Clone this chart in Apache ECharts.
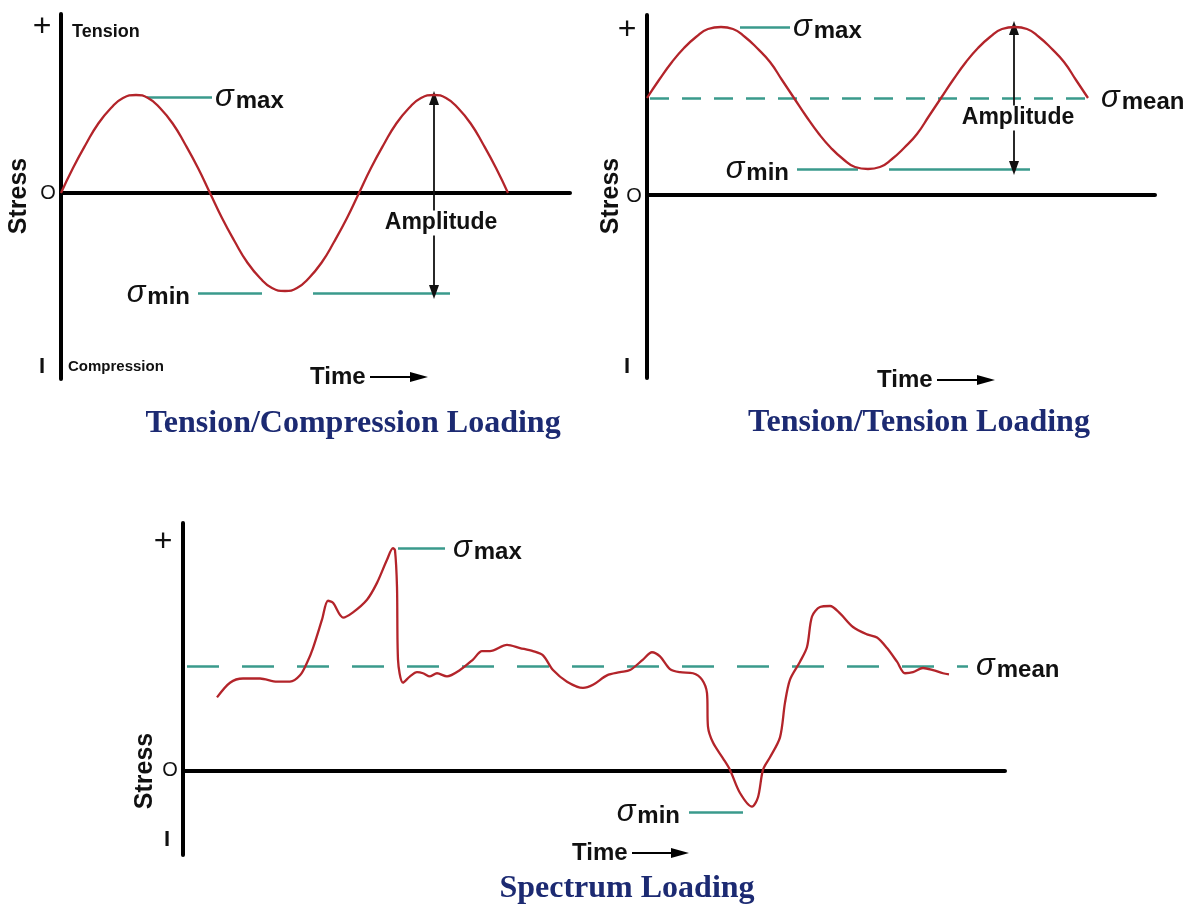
<!DOCTYPE html>
<html>
<head>
<meta charset="utf-8">
<script src="https://cdn.jsdelivr.net/npm/echarts@6/dist/echarts.min.js"></script>
<style>html,body{margin:0;padding:0;background:#fff;}#c{width:1190px;height:909px;}</style>
</head>
<body>
<div id="c"></div>
<script>
// ---- Panel 1: Tension/Compression loading (time units, stress units) ----
const p1Time   = [0,12,25,37,50,62,75,87,99,112,124,137,149,161,174,186,199,211,224,236,248,261,273,286,298,310,323,335,348,360,373,385,397,410,422,435,447];
const p1Stress = [0,25,49,69,85,95,98,95,85,69,49,25,0,-25,-49,-69,-85,-95,-98,-95,-85,-69,-49,-25,0,25,49,69,85,95,98,95,85,69,49,25,0];
// ---- Panel 2: Tension/Tension loading ----
const p2Time   = [0,12,25,37,49,61,74,86,98,110,123,135,147,159,172,184,196,208,221,233,245,257,270,282,294,306,319,331,343,355,368,380,392,404,417,429,441];
const p2Stress = [97,115,133,147,158,166,168,166,158,147,133,115,97,79,61,47,36,28,26,28,36,47,61,79,97,115,133,147,158,166,168,166,158,147,133,115,97];
// ---- Panel 3: Spectrum loading ----
const p3Time   = [34,47,60,77,94,107,117,124,130,139,145,150,160,170,184,194,204,210,212,214,215,220,227,234,240,247,254,264,277,290,299,307,324,337,350,360,370,384,400,410,424,437,447,460,469,477,487,497,510,519,524,525,530,540,547,557,569,575,580,587,597,602,607,617,624,629,637,647,657,670,684,694,704,714,722,730,740,750,760,766];
const p3Stress = [70,84,88,88,85,85,91,103,117,144,162,160,146,151,163,179,201,212,210,175,106,84,90,94,93,90,93,90,96,106,114,114,120,117,114,110,96,85,79,82,91,94,96,106,113,109,97,94,93,87,74,42,27,12,1,-21,-34,-25,1,13,32,65,87,104,118,147,156,157,150,137,130,127,117,104,93,94,98,96,93,92];

// key stress levels
const p1Max = 96, p1Min = -100;
const p2Max = 168, p2Mean = 97, p2Min = 26;
const p3Max = 212, p3Mean = 100, p3Min = -39;

const zip = (a, b) => a.map((v, i) => [v, b[i]]);

const RED = '#b3242a', TEAL = '#3a9a8c', INK = '#111';
const SANS = 'Liberation Sans, Arial, sans-serif';
const SERIF = 'Liberation Serif, Times New Roman, serif';

const sigRich = {
  s: {fontFamily: SANS, fontSize: 31, fontStyle: 'italic', color: INK, lineHeight: 32, verticalAlign: 'bottom'},
  m: {fontFamily: SANS, fontSize: 24, fontWeight: 'bold', color: INK, padding: [0, 0, 0, 2], verticalAlign: 'bottom'}
};
const sig = sub => '{s|σ}{m|' + sub + '}';

function xAx(gi, max) {
  return {type: 'value', gridIndex: gi, min: 0, max: max,
    axisLine: {show: true, onZero: true, lineStyle: {color: '#000', width: 4}},
    axisTick: {show: false}, axisLabel: {show: false}, splitLine: {show: false}};
}
function yAx(gi, min, max) {
  return {type: 'value', gridIndex: gi, min: min, max: max,
    axisLine: {show: true, onZero: false, lineStyle: {color: '#000', width: 4}},
    axisTick: {show: false}, axisLabel: {show: false}, splitLine: {show: false}};
}
function hLine(x1, x2, y, label, pos, dist, dashed) {
  const item = [
    {coord: [x1, y], symbol: 'none', lineStyle: {color: TEAL, width: 2.5, type: dashed || 'solid'}},
    {coord: [x2, y], symbol: 'none'}
  ];
  if (label) {
    item[0].label = {show: true, position: pos, distance: dist, formatter: sig(label), rich: sigRich};
  } else {
    item[0].label = {show: false};
  }
  return item;
}
function arrow(x, y1, y2) {
  return [
    {coord: [x, y1], symbol: 'triangle', symbolSize: [10, 14], lineStyle: {color: '#111', width: 1.8, type: 'solid'}, label: {show: false}},
    {coord: [x, y2], symbol: 'triangle', symbolSize: [10, 14]}
  ];
}
function ampLabel(x, y) {
  return {coord: [x, y], symbol: 'circle', symbolSize: 1, itemStyle: {color: 'rgba(0,0,0,0)'},
    label: {show: true, position: 'inside', formatter: 'Amplitude', color: INK, fontFamily: SANS,
      fontSize: 23, fontWeight: 'bold', backgroundColor: '#fff', padding: [1, 1]}};
}
function curve(gi, data, smooth, mlData, mpData) {
  return {type: 'line', xAxisIndex: gi, yAxisIndex: gi, data: data, smooth: smooth,
    showSymbol: false, silent: true, animation: false, z: 5,
    lineStyle: {color: RED, width: 2.3},
    markLine: {silent: true, animation: false, symbol: 'none', z: 3, data: mlData},
    markPoint: {silent: true, animation: false, z: 6, data: mpData || []}};
}

function T(x, y, text, font) {
  return {type: 'text', x: x, y: y, silent: true,
    style: {text: text, font: font, fill: INK, align: 'left', verticalAlign: 'middle'}};
}
function Tc(x, y, text, font, fill) {
  return {type: 'text', x: x, y: y, silent: true,
    style: {text: text, font: font, fill: fill || INK, align: 'center', verticalAlign: 'middle'}};
}
function Trot(x, y, text, font) {
  return {type: 'text', x: x, y: y, rotation: Math.PI / 2, silent: true,
    style: {text: text, font: font, fill: INK, align: 'center', verticalAlign: 'middle'}};
}
function timeArrow(x, y, x2) {
  return [
    T(x, y, 'Time', 'bold 24px ' + SANS),
    {type: 'line', silent: true, shape: {x1: x + 60, y1: y, x2: x2 - 12, y2: y}, style: {stroke: '#000', lineWidth: 2}},
    {type: 'polygon', silent: true, shape: {points: [[x2 - 18, y - 5], [x2, y], [x2 - 18, y + 5]]}, style: {fill: '#000'}}
  ];
}

const TITLE_FONT = 'bold 32px ' + SERIF, NAVY = '#1c2a72';
const graphics = [
  // panel 1
  Tc(42, 27, '+', '32px ' + SANS), T(72, 32, 'Tension', 'bold 18px ' + SANS),
  Tc(48, 193, 'O', '20px ' + SANS), Trot(19, 196, 'Stress', 'bold 25px ' + SANS),
  Tc(42, 367, 'I', 'bold 22px ' + SANS), T(68, 367, 'Compression', 'bold 15px ' + SANS),
  ...timeArrow(310, 377, 428),
  Tc(353, 424, 'Tension/Compression Loading', TITLE_FONT, NAVY),
  // panel 2
  Tc(627, 30, '+', '32px ' + SANS), Tc(634, 196, 'O', '20px ' + SANS),
  Trot(611, 196, 'Stress', 'bold 25px ' + SANS), Tc(627, 367, 'I', 'bold 22px ' + SANS),
  ...timeArrow(877, 380, 995),
  Tc(919, 423, 'Tension/Tension Loading', TITLE_FONT, NAVY),
  // panel 3
  Tc(163, 542, '+', '32px ' + SANS), Tc(170, 770, 'O', '20px ' + SANS),
  Trot(145, 771, 'Stress', 'bold 25px ' + SANS), Tc(167, 840, 'I', 'bold 22px ' + SANS),
  ...timeArrow(572, 853, 689),
  Tc(627, 889, 'Spectrum Loading', TITLE_FONT, NAVY)
];

const option = {
  backgroundColor: '#fff',
  animation: false,
  grid: [
    {left: 61, top: 14, width: 509, height: 365},
    {left: 647, top: 15, width: 508, height: 363},
    {left: 183, top: 523, width: 822, height: 332}
  ],
  xAxis: [xAx(0, 509), xAx(1, 508), xAx(2, 822)],
  yAxis: [yAx(0, -186, 179), yAx(1, -183, 180), yAx(2, -80, 236)],
  series: [
    curve(0, zip(p1Time, p1Stress), 0.5, [
      hLine(86, 151, p1Max, 'max', 'end', 3),
      hLine(137, 201, p1Min, 'min', 'start', 8),
      hLine(252, 389, p1Min),
      arrow(373, p1Max - 1, p1Min + 1)
    ], [ampLabel(380, -30)]),
    curve(1, zip(p2Time, p2Stress), 0.5, [
      hLine(93, 143, p2Max, 'max', 'end', 3),
      hLine(3, 450, p2Mean, 'mean', 'end', 4, [19, 13]),
      hLine(150, 211, p2Min, 'min', 'start', 8),
      hLine(242, 383, p2Min),
      arrow(367, p2Max - 1, p2Min + 1)
    ], [ampLabel(371, 77)]),
    curve(2, zip(p3Time, p3Stress), 0.3, [
      hLine(215, 262, p3Max, 'max', 'end', 8),
      hLine(4, 785, p3Mean, 'mean', 'end', 8, [32, 23]),
      hLine(506, 560, p3Min, 'min', 'start', 9)
    ])
  ],
  graphic: graphics
};

const chart = echarts.init(document.getElementById('c'), null, {renderer: 'canvas'});
chart.setOption(option);
</script>
</body>
</html>
